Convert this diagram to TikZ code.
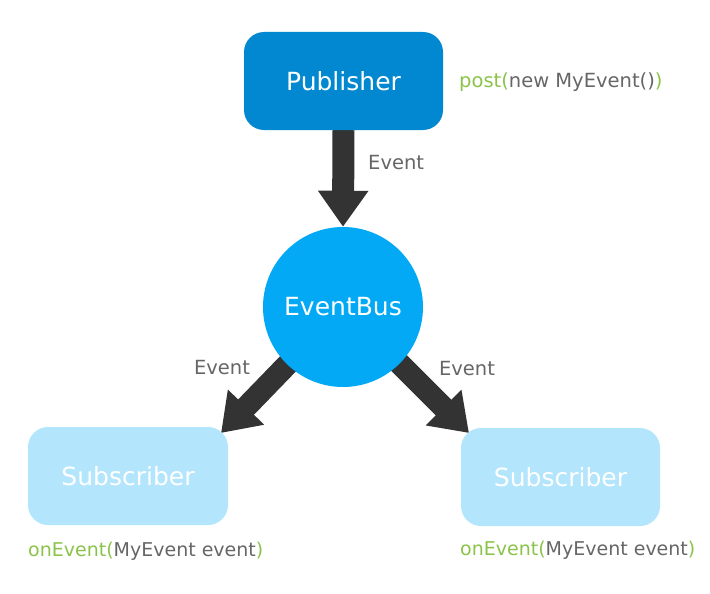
\documentclass[tikz,border=0pt]{standalone}
\usepackage{fontspec}
\setmainfont{DejaVu Sans}
\usetikzlibrary{arrows.meta,backgrounds}
\definecolor{pubblue}{HTML}{0288D1}
\definecolor{busblue}{HTML}{03A9F4}
\definecolor{subblue}{HTML}{B3E5FC}
\definecolor{arrowgray}{HTML}{333333}
\definecolor{txtgray}{HTML}{666666}
\definecolor{codegreen}{HTML}{8BC34A}
\tikzset{
  boxnode/.style={rectangle, rounded corners=20pt, inner sep=0pt, minimum height=98pt, text=white, font=\fontsize{25}{29}\selectfont},
  busnode/.style={circle, fill=busblue, inner sep=0pt, minimum size=160pt, text=white, font=\fontsize{25}{29}\selectfont},
  lbl/.style={text=txtgray, inner sep=0pt, font=\fontsize{19.5}{23}\selectfont},
  code/.style={text=txtgray, inner sep=0pt, font=\fontsize{19.5}{23}\selectfont},
  subcode/.style={text=txtgray, inner sep=0pt, font=\fontsize{19}{23}\selectfont},
  fatarrow/.style={draw=arrowgray, line width=22pt, -{Triangle[width=48pt,length=36pt]}}
}
\begin{document}
\begin{tikzpicture}[x=1pt,y=-1pt]
\useasboundingbox (0,0) rectangle (710,594);
\node[boxnode, fill=pubblue, minimum width=199pt] (pub) at (343.5,81) {Publisher};
\node[busnode] (bus) at (343,307) {EventBus};
\node[boxnode, fill=subblue, minimum width=200pt] (subl) at (128,476) {Subscriber};
\node[boxnode, fill=subblue, minimum width=199pt] (subr) at (560.5,477) {Subscriber};
\coordinate (tipl) at (221,433);
\coordinate (tipr) at (469,433);
\begin{pgfonlayer}{background}
\draw[fatarrow] (pub.south) -- (bus.north);
\draw[fatarrow] (bus.center) -- (tipl);
\draw[fatarrow] (bus.center) -- (tipr);
\end{pgfonlayer}
\node[code, anchor=west] (post) at (459,82) {\textcolor{codegreen}{post(}new MyEvent()\textcolor{codegreen}{)}};
\node[lbl, anchor=west] (ev1) at (368,163) {Event};
\node[lbl] (ev2) at (222,368) {Event};
\node[lbl] (ev3) at (467,369) {Event};
\node[subcode, anchor=west] (onl) at (28,551) {\textcolor{codegreen}{onEvent(}MyEvent event\textcolor{codegreen}{)}};
\node[subcode, anchor=west] (onr) at (460,550) {\textcolor{codegreen}{onEvent(}MyEvent event\textcolor{codegreen}{)}};
\end{tikzpicture}
\end{document}
